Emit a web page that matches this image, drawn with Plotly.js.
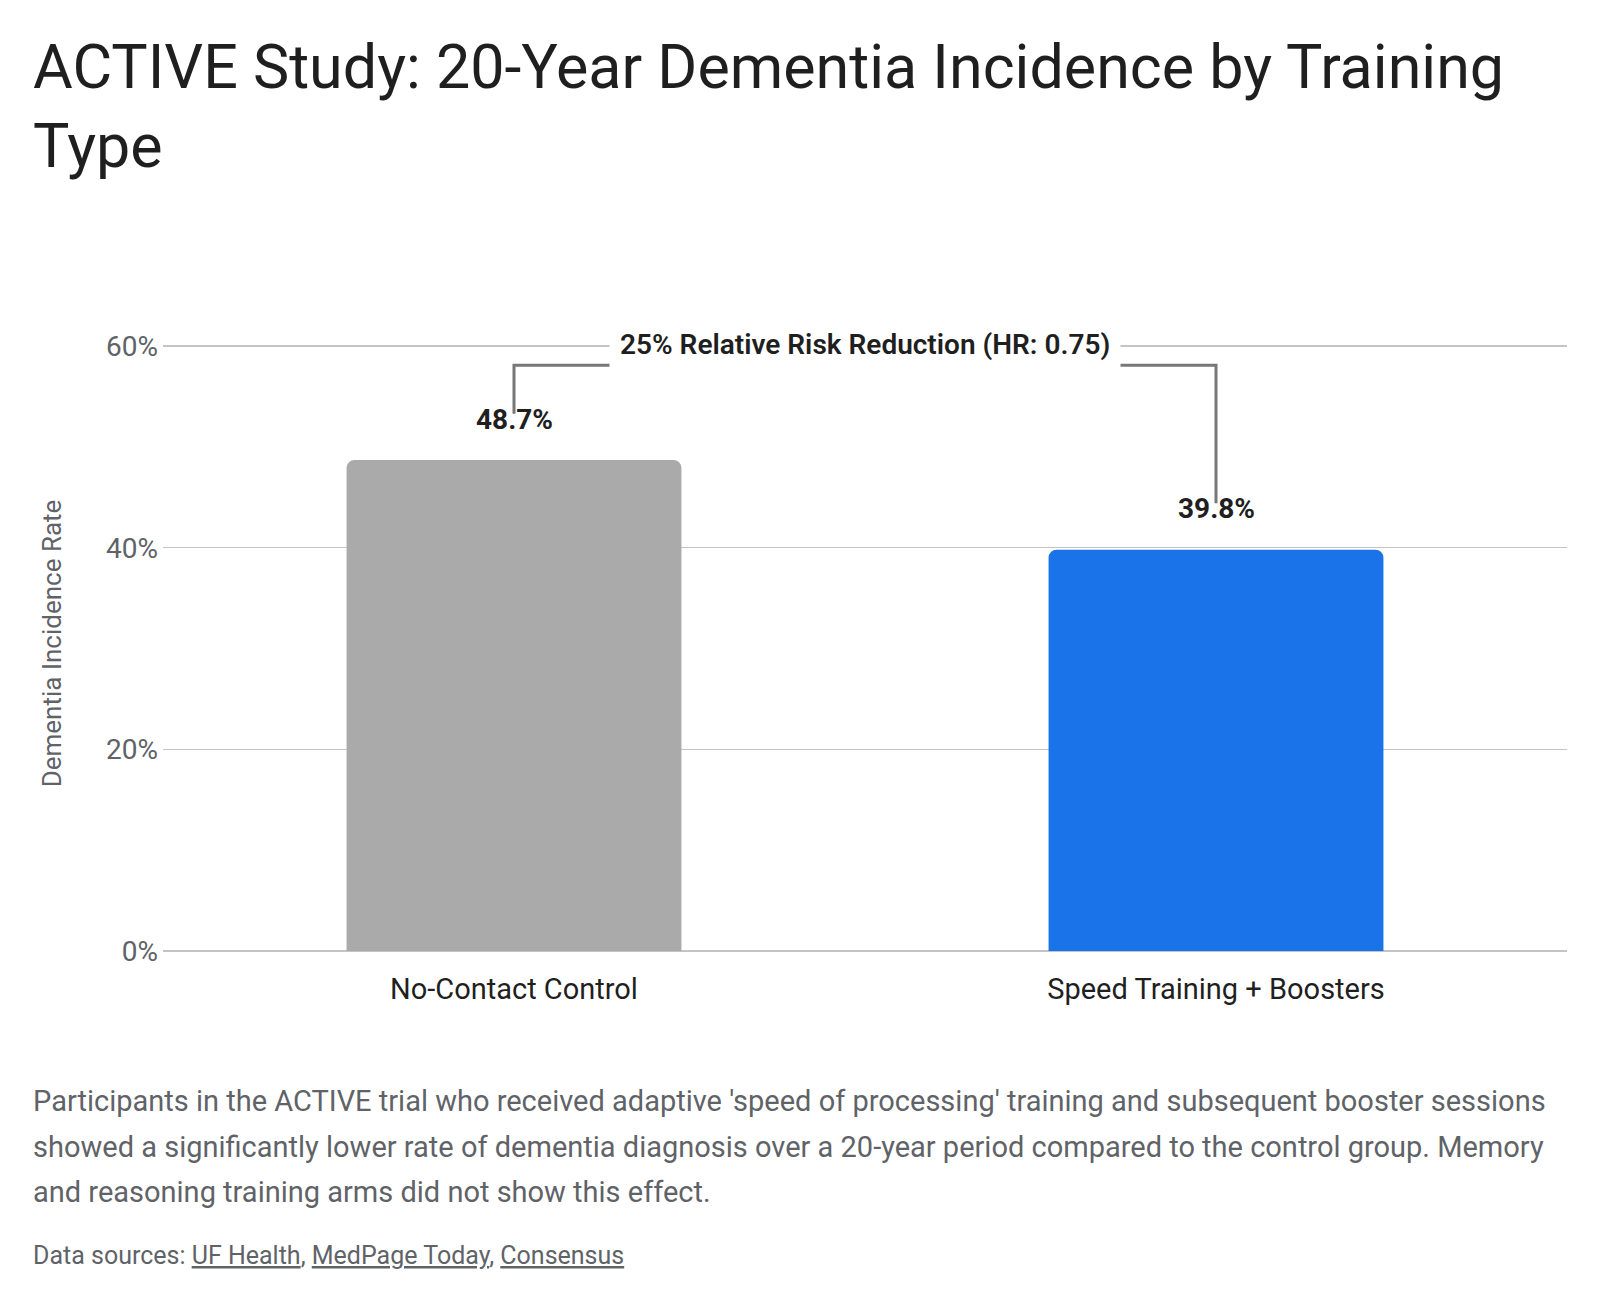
<!DOCTYPE html>
<html>
<head>
<meta charset="utf-8">
<script src="https://cdn.plot.ly/plotly-3.0.1.min.js"></script>
<style>
  html, body { margin: 0; padding: 0; background: #ffffff; }
  #chart { width: 1600px; height: 1302px; }
</style>
</head>
<body>
<div id="chart"></div>
<script>
// ACTIVE trial, 20-year dementia incidence by study arm
const categories = ['No-Contact Control', 'Speed Training + Boosters'];
const incidence = [48.7, 39.8];               // percent diagnosed with dementia
const barColors = ['#aaaaaa', '#1a73e8'];
const hazardRatio = 0.75;
const yTickValues = [0, 20, 40, 60];
const yTickLabels = ['0%', '20%', '40%', '60%'];

const captionLines = [
  "Participants in the ACTIVE trial who received adaptive 'speed of processing' training and subsequent booster sessions",
  "showed a significantly lower rate of dementia diagnosis over a 20-year period compared to the control group. Memory",
  "and reasoning training arms did not show this effect."
];
const sourceNames = ['UF Health', 'MedPage Today', 'Consensus'];

// page geometry
const W = 1600, H = 1302;
const M = { l: 163, r: 33, t: 336, b: 351 };
const plotW = W - M.l - M.r, plotH = H - M.t - M.b;
const yMax = 61;
const FONT = 'Roboto, "Open Sans", sans-serif';
const DARK = '#1f1f1f', GREY = '#5f6368';

// pixel position on the page -> paper coordinates
const px2x = px => (px - M.l) / plotW;
const px2y = py => (H - M.b - py) / plotH;

const reduction = Math.round((1 - hazardRatio) * 100);
const bracketTop = 58.1;      // height of the comparison bracket
const bracketGap = 4.6;       // how far above each bar the bracket stops

const trace = {
  type: 'bar',
  x: categories,
  y: incidence,
  marker: { color: barColors, line: { width: 0 } },
  hoverinfo: 'skip'
};

const annotations = [];

// value labels over the bars
incidence.forEach((v, i) => {
  annotations.push({
    x: categories[i], y: v, xref: 'x', yref: 'y',
    text: '<b>' + v.toFixed(1) + '%</b>',
    showarrow: false, yanchor: 'middle', yshift: 41,
    font: { family: FONT, size: 28, color: DARK }
  });
});

// bracket label, white box hides the lines behind it
annotations.push({
  x: 0.5, y: 60, xref: 'paper', yref: 'y',
  text: reduction + '% Relative Risk Reduction (HR: ' + hazardRatio.toFixed(2) + ')',
  showarrow: false, xanchor: 'center', yanchor: 'middle', yshift: 2,
  bgcolor: '#ffffff', borderpad: 10,
  font: { family: FONT, size: 28, color: DARK, weight: 600 }
});

// caption paragraph
const captionTop = 1082, captionStep = 45.5;
captionLines.forEach((line, i) => {
  annotations.push({
    x: px2x(31), y: px2y(captionTop + i * captionStep),
    xref: 'paper', yref: 'paper', xanchor: 'left', yanchor: 'top',
    text: line, showarrow: false, align: 'left',
    font: { family: FONT, size: 29, color: GREY }
  });
});

// sources line
annotations.push({
  x: px2x(31), y: px2y(1239),
  xref: 'paper', yref: 'paper', xanchor: 'left', yanchor: 'top',
  text: 'Data sources: ' + sourceNames.map(s => '<span style="text-decoration:underline">' + s + '</span>').join(', '),
  showarrow: false, align: 'left',
  font: { family: FONT, size: 25, color: GREY }
});

const shapes = [{
  type: 'path', xref: 'x', yref: 'y',
  path: 'M 0,' + (incidence[0] + bracketGap) +
        ' L 0,' + bracketTop +
        ' L 1,' + bracketTop +
        ' L 1,' + (incidence[1] + bracketGap),
  line: { color: '#777777', width: 3 },
  layer: 'above'
}];

const layout = {
  width: W, height: H,
  margin: M,
  paper_bgcolor: '#ffffff', plot_bgcolor: '#ffffff',
  font: { family: FONT, color: DARK },
  showlegend: false,
  bargap: 0.523,
  barcornerradius: 8,
  title: {
    text: 'ACTIVE Study: 20-Year Dementia Incidence by Training<br>Type',
    x: 33 / W, xanchor: 'left', xref: 'container',
    y: 1 - 88 / H, yanchor: 'top', yref: 'container',
    font: { family: FONT, size: 61, color: DARK }
  },
  xaxis: {
    type: 'category',
    showgrid: false, showline: false, zeroline: false, ticks: '',
    tickfont: { family: FONT, size: 29, color: DARK },
    ticklabelstandoff: 18
  },
  yaxis: {
    range: [0, yMax],
    tickvals: yTickValues, ticktext: yTickLabels,
    showgrid: true, gridcolor: '#c4c4c4', gridwidth: 1.5,
    zeroline: true, zerolinecolor: '#c4c4c4', zerolinewidth: 1.5,
    showline: false, ticks: '',
    ticklabelstandoff: 4,
    tickfont: { family: FONT, size: 28, color: GREY },
    title: { text: 'Dementia Incidence Rate', standoff: 36,
             font: { family: FONT, size: 26, color: GREY } }
  },
  annotations: annotations,
  shapes: shapes
};

Plotly.newPlot('chart', [trace], layout, { displayModeBar: false, staticPlot: true });
</script>
</body>
</html>
